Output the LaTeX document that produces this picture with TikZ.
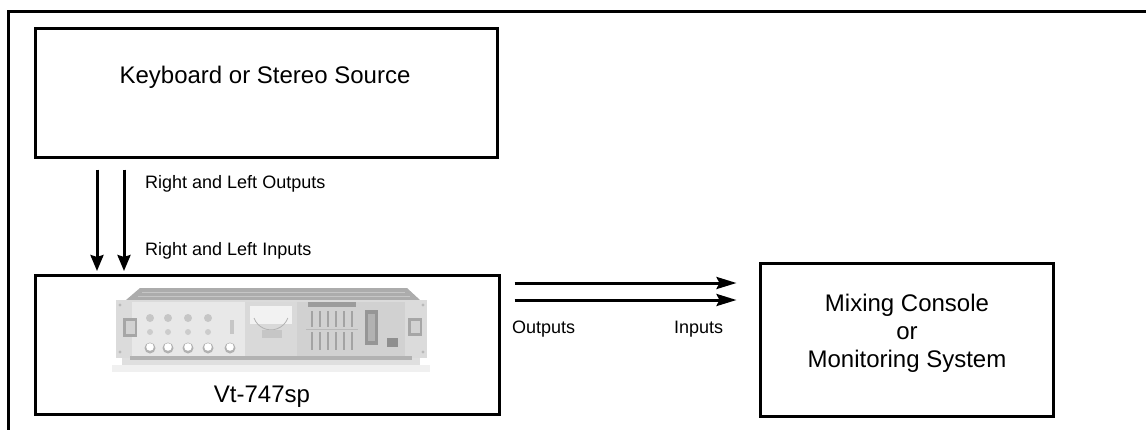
\documentclass[tikz,border=0pt]{standalone}
\usepackage{fontspec}
\setmainfont{Liberation Sans}
\usetikzlibrary{arrows.meta}
\tikzset{
  boxnode/.style={draw=black, line width=3pt, rectangle, inner sep=0pt, fill=white},
  bigtext/.style={font=\fontsize{24}{28}\selectfont, inner sep=0pt},
  smalltext/.style={font=\fontsize{18}{22}\selectfont, inner sep=0pt},
  varr/.style={line width=3pt, -{Stealth[length=16pt, width=13pt, inset=2pt]}},
  harr/.style={line width=3pt, -{Stealth[length=20pt, width=12pt, inset=3pt]}},
  frameline/.style={line width=3pt},
}
\begin{document}
\begin{tikzpicture}[x=1pt, y=-1pt]
\useasboundingbox (0,0) rectangle (1146,429);
% outer frame (top and left)
\draw[frameline] (8,440) -- (8,11) -- (1160,11);

% boxes
\node[boxnode, minimum width=462pt, minimum height=129pt] (kb) at (266,92.5) {};
\node[boxnode, minimum width=464pt, minimum height=139pt] (vt) at (267,344.5) {};
\node[boxnode, minimum width=293pt, minimum height=153pt] (mix) at (906.5,339.5) {};

% box texts
\node[bigtext, anchor=base] (kbtext) at (265,83) {Keyboard or Stereo Source};
\node[bigtext, anchor=base] (vttext) at (262,402) {Vt-747sp};
\node[bigtext, anchor=base] (mixa) at (907,311) {Mixing Console};
\node[bigtext, anchor=base] (mixb) at (907,339) {or};
\node[bigtext, anchor=base] (mixc) at (907,367) {Monitoring System};

% device picture
\begin{scope}
  \fill[gray!25] (122,358) rectangle (420,368);
  \fill[gray!12] (112,365) rectangle (430,372);
  \fill[gray!65] (140,288) -- (407,288) -- (420,300) -- (126,300) -- cycle;
  \draw[gray!45, line width=0.8pt] (142,292) -- (405,292);
  \draw[gray!45, line width=0.8pt] (138,296) -- (410,296);
  \fill[gray!28] (116,300) rectangle (427,358);
  \fill[gray!18] (132,302) rectangle (245,356);
  \fill[gray!30] (245,302) rectangle (297,356);
  \fill[gray!36] (297,302) rectangle (405,356);
  \fill[gray!60] (130,356) rectangle (412,360);
  % left switch
  \fill[gray!70] (123,318) rectangle (137,337);
  \fill[gray!35] (125.5,321) rectangle (134.5,334);
  \fill[gray!55] (120,305) circle (1.6);
  \fill[gray!55] (120,352) circle (1.6);
  % upper knobs
  \foreach \kx in {150,168,188,208} {
    \fill[gray!45] (\kx,318) circle (4);
    \fill[gray!40] (\kx,332) circle (3);
  }
  \fill[gray!45] (230,320) rectangle (234,334);
  % lower knobs
  \foreach \kx in {150,168,188,208,230} {
    \fill[gray!60] (\kx,348) circle (5.5);
    \fill[white] (\kx,347) circle (3.8);
  }
  % meter
  \fill[gray!10] (250,306) rectangle (292,324);
  \draw[gray!60, line width=0.8pt] (254,318) arc[start angle=160, end angle=20, radius=18];
  \fill[gray!45] (262,330) rectangle (282,338);
  % EQ sliders
  \fill[gray!78] (308,302) rectangle (356,307);
  \foreach \sx in {312,320,328,336,344,352} {
    \draw[gray!72, line width=1.8pt] (\sx,311) -- (\sx,327);
    \draw[gray!72, line width=1.8pt] (\sx,332) -- (\sx,350);
  }
  \draw[gray!55, line width=0.8pt] (306,329.5) -- (358,329.5);
  \fill[gray!82] (365,310) rectangle (378,345);
  \fill[gray!60] (368,314) rectangle (375,341);
  \fill[gray!88] (387,338) rectangle (398,347);
  % right switch
  \fill[gray!70] (408,318) rectangle (422,336);
  \fill[gray!35] (410.5,321) rectangle (419.5,333);
  \fill[gray!55] (423,305) circle (1.6);
  \fill[gray!55] (423,352) circle (1.6);
\end{scope}

% connector helpers
\coordinate (xa) at (97,0);
\coordinate (xb) at (124,0);
\coordinate (ya) at (0,283);
\coordinate (yb) at (0,300);

% vertical arrows
\draw[varr, shorten <=11pt, shorten >=2.5pt] (kb.south -| xa) -- (vt.north -| xa);
\draw[varr, shorten <=11pt, shorten >=2.5pt] (kb.south -| xb) -- (vt.north -| xb);

% horizontal arrows
\draw[harr, shorten <=14pt, shorten >=22pt] (vt.east |- ya) -- (mix.west |- ya);
\draw[harr, shorten <=14pt, shorten >=22pt] (vt.east |- yb) -- (mix.west |- yb);

% labels
\node[smalltext, anchor=base west] (rlo) at (145,188) {Right and Left Outputs};
\node[smalltext, anchor=base west] (rli) at (145,255) {Right and Left Inputs};
\node[smalltext, anchor=base west] (outl) at (512,333) {Outputs};
\node[smalltext, anchor=base west] (inl) at (674,333) {Inputs};
\end{tikzpicture}
\end{document}
